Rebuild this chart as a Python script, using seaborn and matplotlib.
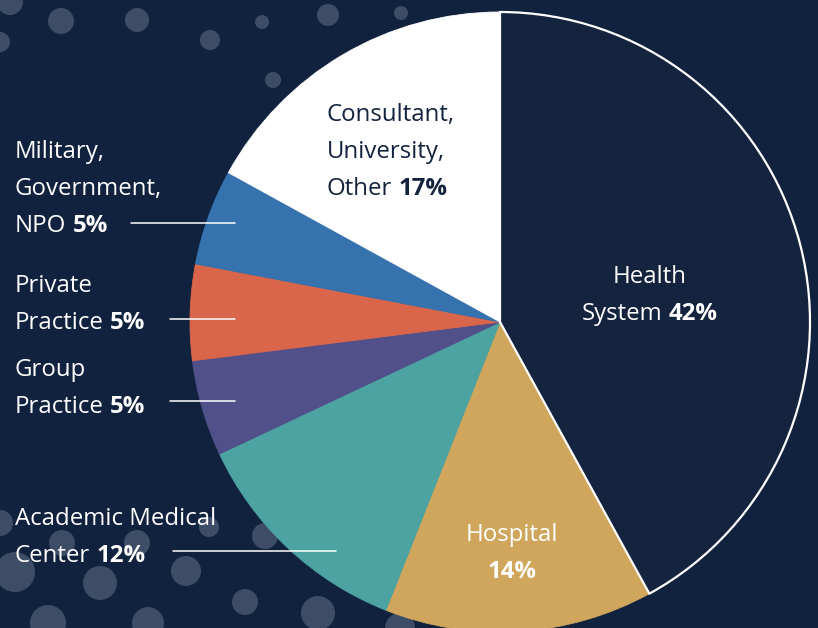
import matplotlib
matplotlib.use("Agg")
import matplotlib.pyplot as plt
from matplotlib.patches import Circle
import seaborn as sns

sns.set_theme(style="white")
plt.rcParams["font.family"] = ["Open Sans", "DejaVu Sans"]

# ---- data ----
categories = ["Health System", "Hospital", "Academic Medical Center", "Group Practice",
              "Private Practice", "Military, Government, NPO", "Consultant, University, Other"]
values = [42, 14, 12, 5, 5, 5, 17]
label_lines = [["Health", "System"], ["Hospital", ""], ["Academic Medical", "Center"],
               ["Group", "Practice"], ["Private", "Practice"],
               ["Military,", "Government,", "NPO"], ["Consultant,", "University,", "Other"]]
colors = sns.color_palette(["#15243e", "#cfa65b", "#4ca3a2", "#52508b",
                            "#d9664a", "#3572ae", "#ffffff"])

BG = "#10223e"
W, H = 818, 628
fig = plt.figure(figsize=(W / 100, H / 100), dpi=100, facecolor=BG)

# background with decorative dots
bg = fig.add_axes([0, 0, 1, 1], zorder=0)
bg.set_xlim(0, W); bg.set_ylim(H, 0); bg.axis("off")
bg.set_facecolor(BG)
dots = [(10, 2, 13), (61, 21, 13), (137, 20, 12), (210, 40, 10), (262, 22, 7), (328, 15, 11),
        (401, 13, 7), (273, 80, 8), (0, 42, 10),
        (0, 523, 13), (62, 543, 13), (137, 543, 13), (209, 527, 10), (265, 536, 13),
        (15, 572, 20), (100, 583, 17), (186, 571, 15), (245, 602, 13), (318, 613, 17),
        (48, 623, 18), (148, 623, 16), (400, 628, 15)]
for (cx, cy, r) in dots:
    bg.add_patch(Circle((cx, cy), r, facecolor="#3d4d66", edgecolor="none"))

# pie
cx, cy, R = 500, 322, 310
pax = fig.add_axes([(cx - R) / W, (H - cy - R) / H, 2 * R / W, 2 * R / H], zorder=1)
wedges, _ = pax.pie(values, colors=colors, startangle=90, counterclock=False, radius=1,
                    wedgeprops=dict(linewidth=0.6))
for w, c in zip(wedges, colors):
    w.set_edgecolor(c)
    w.set_clip_on(False)
wedges[0].set_edgecolor("white")
wedges[0].set_linewidth(1.6)
wedges[0].set_zorder(5)
pax.set_xlim(-1, 1); pax.set_ylim(-1, 1)
pax.set_aspect("equal")
pax.axis("off")

# text overlay
tx = fig.add_axes([0, 0, 1, 1], zorder=2)
tx.set_xlim(0, W); tx.set_ylim(H, 0); tx.axis("off")
tx.patch.set_alpha(0)
renderer = fig.canvas.get_renderer()
FS = 17.3


def rich_line(x, y, parts, ha, color):
    gap = 6
    arts = []
    for s, wt in parts:
        if not s:
            continue
        t = tx.text(x, y, s, fontsize=FS, fontweight=wt, color=color, ha="left", va="baseline")
        arts.append(t)
    widths = [a.get_window_extent(renderer).width for a in arts]
    total = sum(widths) + gap * (len(arts) - 1)
    start = x if ha == "left" else x - total / 2
    for a, wd in zip(arts, widths):
        a.set_x(start)
        start += wd + gap


# label layout: (x, first baseline, ha, color, leader line (x0, x1, y) or None)
layout = [
    (650, 283, "center", "white", None),
    (512, 541, "center", "white", None),
    (15, 525, "left", "white", (173, 336, 551)),
    (15, 376, "left", "white", (170, 235, 401)),
    (15, 292, "left", "white", (170, 235, 319)),
    (15, 158, "left", "white", (131, 235, 223)),
    (327, 121, "left", "#13233d", None),
]
LS = 37
for lines, v, (x, y0, ha, col, ld) in zip(label_lines, values, layout):
    for i, ln in enumerate(lines):
        y = y0 + i * LS
        if i == len(lines) - 1:
            rich_line(x, y, [(ln, "normal"), (f"{v}%", "bold")], ha, col)
        else:
            rich_line(x, y, [(ln, "normal")], ha, col)
    if ld:
        tx.plot([ld[0], ld[1]], [ld[2], ld[2]], color="white", lw=1.1)

fig.savefig("out.png", dpi=100, facecolor=BG)
